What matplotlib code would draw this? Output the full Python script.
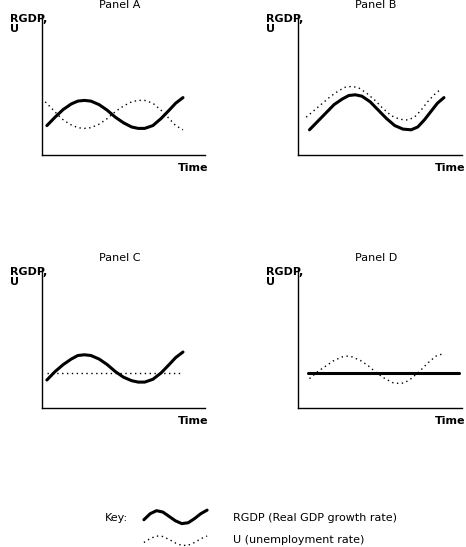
import matplotlib
matplotlib.use("Agg")
import matplotlib.pyplot as plt

W, H = 466, 547
fig = plt.figure(figsize=(W/100, H/100), dpi=100)

# RGDP shape points (x, y) for panels A and C
rg_x = [0.3, 0.8, 1.3, 1.8, 2.2, 2.6, 3.0, 3.5, 4.0, 4.5, 5.0, 5.5, 5.9, 6.3, 6.8, 7.3, 7.8, 8.2, 8.65]
rgA_y = [2.1, 2.7, 3.25, 3.65, 3.85, 3.9, 3.85, 3.6, 3.2, 2.7, 2.3, 2.0, 1.9, 1.9, 2.1, 2.6, 3.2, 3.7, 4.1]
uA_x = [0.2, 0.7, 1.2, 1.7, 2.2, 2.6, 3.0, 3.5, 4.0, 4.5, 5.0, 5.5, 5.9, 6.3, 6.8, 7.3, 7.8, 8.2, 8.65]
uA_y = [3.8, 3.2, 2.6, 2.2, 1.95, 1.9, 1.95, 2.2, 2.6, 3.1, 3.5, 3.8, 3.9, 3.9, 3.7, 3.2, 2.6, 2.1, 1.8]
# Panel B
rgB_x = [0.7, 1.2, 1.7, 2.2, 2.7, 3.1, 3.5, 3.9, 4.4, 4.9, 5.4, 5.9, 6.4, 6.9, 7.3, 7.7, 8.1, 8.5, 8.9]
rgB_y = [1.8, 2.4, 3.0, 3.6, 4.0, 4.25, 4.3, 4.2, 3.8, 3.2, 2.6, 2.1, 1.85, 1.8, 2.0, 2.5, 3.1, 3.7, 4.1]
uB_x = [x - 0.2 for x in rgB_x]
uB_y = [2.7, 3.2, 3.7, 4.2, 4.6, 4.85, 4.9, 4.8, 4.4, 3.9, 3.3, 2.8, 2.55, 2.5, 2.7, 3.2, 3.8, 4.3, 4.7]
# Panel C
rgC_y = [2.0, 2.6, 3.1, 3.5, 3.75, 3.8, 3.75, 3.5, 3.1, 2.6, 2.2, 1.95, 1.85, 1.85, 2.05, 2.5, 3.1, 3.6, 4.0]
flat_x = [0.3, 8.65]
flat_y = [2.5, 2.5]
# Panel D
uD_x = [0.7, 1.2, 1.7, 2.2, 2.7, 3.0, 3.3, 3.8, 4.3, 4.8, 5.3, 5.8, 6.2, 6.5, 6.9, 7.4, 7.9, 8.4, 8.9]
uD_y = [2.1, 2.6, 3.0, 3.4, 3.65, 3.7, 3.65, 3.4, 3.0, 2.5, 2.1, 1.8, 1.75, 1.8, 2.1, 2.6, 3.2, 3.7, 3.9]
flatD_x = [0.6, 9.8]

panels = ["Panel A", "Panel B", "Panel C", "Panel D"]

def make_ax(x0, y0, x1, y1, title):
    ax = fig.add_axes([x0/W, 1-y1/H, (x1-x0)/W, (y1-y0)/H])
    ax.set_xlim(0, 10); ax.set_ylim(0, 10)
    for s in ["top", "right"]:
        ax.spines[s].set_visible(False)
    for s in ["left", "bottom"]:
        ax.spines[s].set_linewidth(1.0)
    ax.set_xticks([]); ax.set_yticks([])
    fig.text((x0+78)/W, 1-5/H - (y0-15)/H, title, ha="center", va="center", fontsize=8)
    fig.text((x0-32)/W, 1-(y0+9)/H, "RGDP,\nU", ha="left", va="center", fontsize=8,
             fontweight="bold", linespacing=1.0)
    fig.text((x1-12)/W, 1-(y1+13)/H, "Time", ha="center", va="center", fontsize=8, fontweight="bold")
    return ax

solid = dict(color="black", lw=2.2, solid_capstyle="round")
dot = dict(color="black", lw=1.0, linestyle=(0, (1, 2.5)))

axA = make_ax(42, 15, 205, 155, panels[0])
axA.plot(rg_x, rgA_y, **solid); axA.plot(uA_x, uA_y, **dot)
axB = make_ax(298, 15, 462, 155, panels[1])
axB.plot(rgB_x, rgB_y, **solid); axB.plot(uB_x, uB_y, **dot)
axC = make_ax(42, 268, 205, 408, panels[2])
axC.plot(rg_x, rgC_y, **solid); axC.plot(flat_x, flat_y, **dot)
axD = make_ax(298, 268, 462, 408, panels[3])
axD.plot(flatD_x, flat_y, **solid); axD.plot(uD_x, uD_y, **dot)

# Key
key_x = [0, 1, 2, 3, 4, 5, 6, 7, 8, 9, 10]
key_s = [3.0, 5.2, 6.3, 5.8, 4.2, 2.6, 1.6, 1.9, 3.4, 5.2, 6.5]
key_d = [3.0, 4.6, 5.6, 5.4, 4.2, 2.8, 1.8, 1.9, 3.0, 4.5, 5.6]
kax = fig.add_axes([142/W, 1-528/H, 67/W, 22/H]); kax.axis("off")
kax.set_xlim(-0.3, 10.3); kax.set_ylim(0, 8)
kax.plot(key_x, key_s, **solid)
kax2 = fig.add_axes([142/W, 1-550/H, 67/W, 20/H]); kax2.axis("off")
kax2.set_xlim(-0.3, 10.3); kax2.set_ylim(0, 8)
kax2.plot(key_x, key_d, **dot)
fig.text(105/W, 1-518/H, "Key:", fontsize=8, va="center")
fig.text(233/W, 1-518/H, "RGDP (Real GDP growth rate)", fontsize=8, va="center")
fig.text(233/W, 1-540/H, "U (unemployment rate)", fontsize=8, va="center")

fig.savefig("out.png", dpi=100)
